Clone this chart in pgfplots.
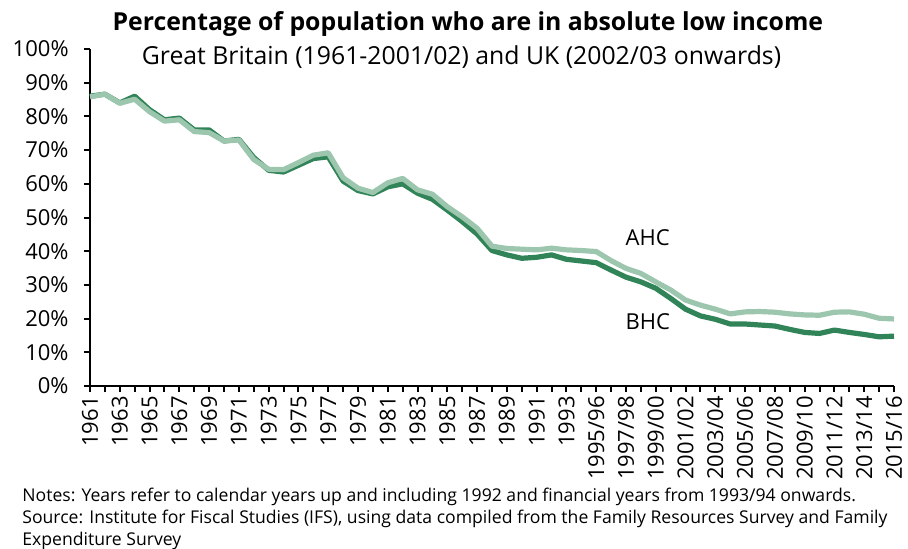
\documentclass[border=0pt]{standalone}
\usepackage{fontspec}
\setmainfont{Open Sans}
\usepackage{pgfplots}
\pgfplotsset{compat=1.18}
\usepackage{pgfplotstable}

\definecolor{bhc}{RGB}{48,132,88}
\definecolor{ahc}{RGB}{156,198,174}

% i  BHC  AHC  (per cent of population)
\pgfplotstableread{
i  bhc   ahc
0  86.0  85.8
1  86.6  86.6
2  84.0  83.9
3  86.0  85.1
4  82.0  81.4
5  79.0  78.6
6  79.5  79.0
7  76.0  75.5
8  76.0  75.2
9  72.7  72.7
10 73.2  73.0
11 67.8  67.2
12 64.0  64.3
13 63.5  64.2
14 65.5  66.3
15 67.5  68.5
16 68.0  69.2
17 60.8  61.8
18 58.0  58.7
19 57.0  57.4
20 59.1  60.3
21 60.0  61.6
22 57.2  58.2
23 55.4  56.9
24 52.2  53.2
25 48.8  50.2
26 45.1  46.8
27 40.2  41.5
28 38.9  40.8
29 37.9  40.6
30 38.2  40.4
31 38.9  40.9
32 37.6  40.4
33 37.1  40.2
34 36.6  39.9
35 34.4  37.2
36 32.3  34.9
37 30.9  33.4
38 29.0  30.9
39 26.0  28.5
40 22.8  25.5
41 20.8  24.0
42 19.8  22.8
43 18.4  21.4
44 18.4  22.0
45 18.1  22.1
46 17.8  21.9
47 16.8  21.4
48 15.9  21.1
49 15.6  21.0
50 16.6  21.9
51 15.9  22.0
52 15.3  21.3
53 14.6  20.1
54 14.8  19.9
}\lowinc

\begin{document}
\begin{tikzpicture}
\begin{axis}[
    scale only axis,
    width=402pt, height=168.5pt,
    xmin=0, xmax=54, ymin=0, ymax=100,
    axis lines*=left,
    axis line style={line width=1pt, black},
    tick style={line width=1pt, black},
    tick align=outside,
    major tick length=3pt, minor tick length=3pt,
    xtick={0,2,...,54},
    minor xtick={1,3,...,53},
    xticklabels={1961,1963,1965,1967,1969,1971,1973,1975,1977,1979,1981,1983,1985,1987,1989,1991,1993,1995/96,1997/98,1999/00,2001/02,2003/04,2005/06,2007/08,2009/10,2011/12,2013/14,2015/16},
    xticklabel style={rotate=90, anchor=east, font=\fontsize{11}{13}\selectfont, inner sep=2pt},
    ytick={0,10,...,100},
    yticklabels={0\%,10\%,20\%,30\%,40\%,50\%,60\%,70\%,80\%,90\%,100\%},
    yticklabel style={font=\fontsize{11}{13}\selectfont, inner sep=2pt, xshift=-5.5pt},
    clip=false,
]
\addplot[bhc, line width=2.6pt, line join=round] table[x=i, y=bhc] {\lowinc};
\addplot[ahc, line width=2.6pt, line join=round] table[x=i, y=ahc] {\lowinc};

\node[anchor=west, font=\fontsize{11}{13}\selectfont] at (axis cs:35.5,43.9) {AHC};
\node[anchor=west, font=\fontsize{11}{13}\selectfont] at (axis cs:35.5,19) {BHC};

\node[font=\fontsize{12.4}{14}\selectfont\bfseries] at ([yshift=12.5pt]rel axis cs:0.47,1) {Percentage of population who are in absolute low income};
\node[font=\fontsize{12.4}{14}\selectfont] at ([yshift=-4pt]rel axis cs:0.462,1) {Great Britain (1961-2001/02) and UK (2002/03 onwards)};

\node[anchor=north west, align=left, inner sep=0pt, font=\fontsize{8.8}{11}\selectfont]
  at ([xshift=-34pt, yshift=-51pt]rel axis cs:0,0)
  {Notes: Years refer to calendar years up and including 1992 and financial years from 1993/94 onwards.\\
   Source: Institute for Fiscal Studies (IFS), using data compiled from the Family Resources Survey and Family\\
   Expenditure Survey};
\end{axis}
\pgfresetboundingbox
\path[use as bounding box] ([shift={(-45pt,-81pt)}]current axis.south west) rectangle ([shift={(7pt,24.5pt)}]current axis.north east);
\end{tikzpicture}
\end{document}
